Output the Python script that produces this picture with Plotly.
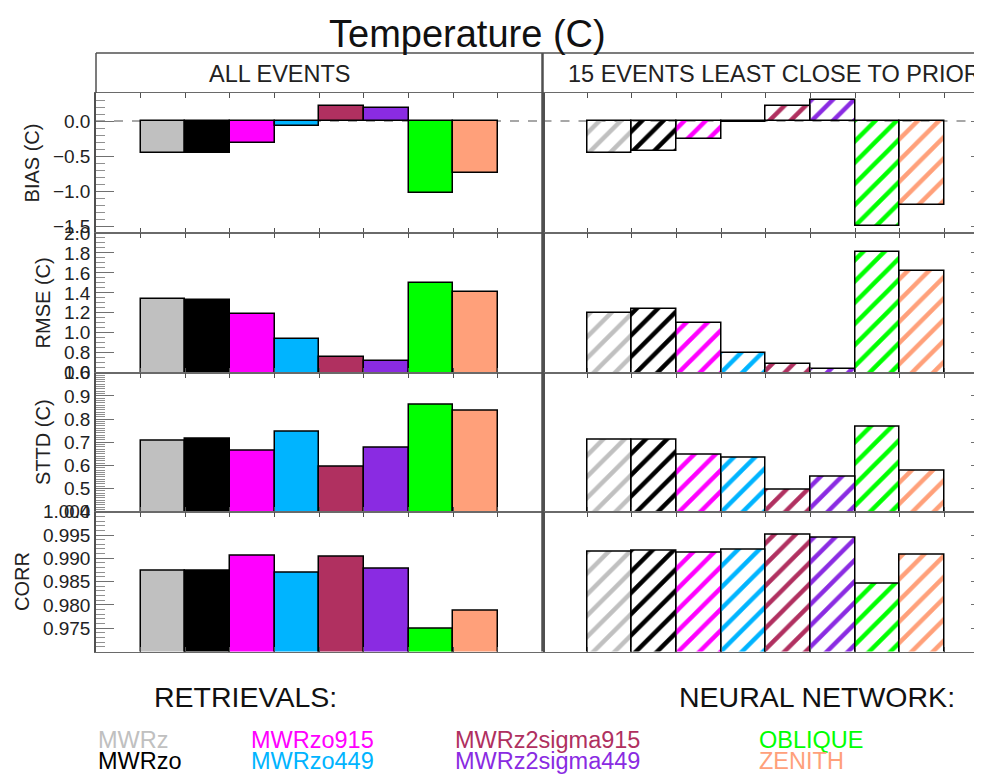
import plotly.graph_objects as go

# ---------------- data ----------------
categories = ["MWRz", "MWRzo", "MWRzo915", "MWRzo449",
              "MWRz2sigma915", "MWRz2sigma449", "OBLIQUE", "ZENITH"]
bar_colors = ["#c0c0c0", "#000000", "#ff00ff", "#00b4ff",
              "#b03060", "#8a2be2", "#00ff00", "#ffa07a"]

panel_titles = ["ALL EVENTS", "15 EVENTS LEAST CLOSE TO PRIOR"]
metric_labels = ["BIAS (C)", "RMSE (C)", "STTD (C)", "CORR"]

bias_all = [-0.46, -0.45, -0.32, -0.07, 0.21, 0.19, -1.03, -0.74]
rmse_all = [1.34, 1.33, 1.19, 0.94, 0.76, 0.72, 1.50, 1.41]
sttd_all = [0.708, 0.715, 0.662, 0.746, 0.593, 0.676, 0.861, 0.834]
corr_all = [0.9874, 0.9874, 0.9906, 0.9869, 0.9904, 0.9878, 0.9748, 0.9787]

bias_15 = [-0.45, -0.43, -0.26, -0.01, 0.22, 0.30, -1.50, -1.20]
rmse_15 = [1.20, 1.24, 1.10, 0.80, 0.69, 0.64, 1.81, 1.62]
sttd_15 = [0.711, 0.712, 0.646, 0.632, 0.497, 0.552, 0.769, 0.576]
corr_15 = [0.9915, 0.9917, 0.9912, 0.9919, 0.9950, 0.9945, 0.9846, 0.9908]

bias_ticks = [-1.5, -1.0, -0.5, 0.0]
rmse_ticks = [0.6, 0.8, 1.0, 1.2, 1.4, 1.6, 1.8, 2.0]
sttd_ticks = [0.4, 0.5, 0.6, 0.7, 0.8, 0.9, 1.0]
corr_ticks = [0.975, 0.980, 0.985, 0.990, 0.995, 1.000]

legend_groups = ["RETRIEVALS:", "NEURAL NETWORK:"]

# ---------------- layout helpers ----------------
OFF = 8                      # page body margin
W, H = 982 - OFF, 774 - OFF  # figure size that fills the rest of the window
FONT = "Liberation Sans, Arial, sans-serif"
AXC = "#505050"


def fx(p):
    return (p - OFF) / W


def fy(p):
    return 1 - (p - OFF) / H


metrics = [
    dict(vals=(bias_all, bias_15), rng=[-1.6, 0.4], ticks=bias_ticks, fmt=".1f", minor=0.1,
         dom=[fy(233), fy(93)]),
    dict(vals=(rmse_all, rmse_15), rng=[0.6, 2.0], ticks=rmse_ticks, fmt=".1f", minor=0.05,
         dom=[fy(372.7), fy(233)]),
    dict(vals=(sttd_all, sttd_15), rng=[0.4, 1.0], ticks=sttd_ticks, fmt=".1f", minor=0.01,
         dom=[fy(511.7), fy(372.7)]),
    dict(vals=(corr_all, corr_15), rng=[0.97, 1.0], ticks=corr_ticks, fmt=".3f", minor=0.001,
         dom=[fy(651.5), fy(511.7)]),
]

bar_w = (542.5 - 96) / 10.0
xdoms = [[fx(96), fx(542.5)], [fx(542.5), 1.0]]
xranges = [[-1.5, 8.5], [-1.5, -1.5 + (982 - 542.5) / bar_w]]

fig = go.Figure()
layout = dict(
    width=W, height=H,
    margin=dict(l=0, r=0, t=0, b=0),
    paper_bgcolor="white", plot_bgcolor="white",
    showlegend=False,
    font=dict(family=FONT, color="#222222"),
    bargap=0,
)
shapes = []
annotations = []

for m, met in enumerate(metrics):
    for p in range(2):
        k = 2 * m + p + 1
        xa = "x" if k == 1 else f"x{k}"
        ya = "y" if k == 1 else f"y{k}"
        marker = dict(color=bar_colors, line=dict(color="black", width=1.5))
        if p == 1:
            marker["pattern"] = dict(shape="/", fgcolor=bar_colors, bgcolor="white",
                                     size=15, solidity=0.3, fillmode="replace")
        fig.add_trace(go.Bar(x=categories, y=met["vals"][p], width=1.0,
                             marker=marker, xaxis=xa, yaxis=ya, hoverinfo="x+y"))

        layout["xaxis" if k == 1 else f"xaxis{k}"] = dict(
            domain=xdoms[p], range=xranges[p], anchor=ya,
            type="category", categoryorder="array", categoryarray=categories,
            tickson="boundaries", ticks="inside", ticklen=5, tickwidth=1, tickcolor=AXC,
            showticklabels=False, showgrid=False, zeroline=False,
            showline=True, linecolor="#6a6a6a", linewidth=1, mirror="ticks",
            automargin=False,
        )
        yd = dict(
            domain=met["dom"], range=met["rng"], anchor=xa,
            showgrid=False, zeroline=False, automargin=False,
        )
        if p == 0:
            yd.update(
                showline=True, linecolor=AXC, linewidth=1.5, mirror=True,
                tickmode="array", tickvals=met["ticks"], tickformat=met["fmt"],
                ticks="inside", ticklen=18, tickwidth=1.2, tickcolor="#707070",
                tickfont=dict(size=19, color="#222222", family=FONT),
                minor=dict(tickmode="linear", tick0=0, dtick=met["minor"], ticks="inside",
                           ticklen=9, tickwidth=1, tickcolor="#909090"),
                title=dict(text=metric_labels[m], font=dict(size=20, family=FONT, color="#222222"),
                           standoff=8),
            )
        else:
            yd.update(
                side="right", showline=False, showticklabels=False,
                tickmode="array", tickvals=met["ticks"],
                ticks="inside", ticklen=11, tickwidth=1.2, tickcolor="#707070",
                minor=dict(tickmode="linear", tick0=0, dtick=met["minor"], ticks="inside",
                           ticklen=5, tickwidth=1, tickcolor="#a0a0a0"),
            )
        layout["yaxis" if k == 1 else f"yaxis{k}"] = yd

        if m == 0:
            shapes.append(dict(type="line", xref=f"{xa} domain", yref=ya,
                               x0=0, x1=1, y0=0, y1=0, layer="below",
                               line=dict(color="#8a8a8a", width=1.5, dash="dash")))

# header box and panel divider
shapes.append(dict(type="line", xref="paper", yref="paper", x0=fx(96), x1=1.0,
                   y0=fy(53), y1=fy(53), line=dict(color=AXC, width=1.5)))
shapes.append(dict(type="line", xref="paper", yref="paper", x0=fx(96), x1=fx(96),
                   y0=fy(93), y1=fy(53), line=dict(color=AXC, width=1.5)))
shapes.append(dict(type="line", xref="paper", yref="paper", x0=fx(542.5), x1=fx(542.5),
                   y0=fy(651.5), y1=fy(53), line=dict(color=AXC, width=2.5)))

annotations.append(dict(text=panel_titles[0], xref="paper", yref="paper", x=fx(207), y=fy(74),
                        xanchor="left", yanchor="middle", showarrow=False,
                        font=dict(size=23.5, family=FONT, color="#222222")))
annotations.append(dict(text=panel_titles[1], xref="paper", yref="paper", x=fx(566), y=fy(74),
                        xanchor="left", yanchor="middle", showarrow=False,
                        font=dict(size=23.5, family=FONT, color="#222222")))

# title
annotations.append(dict(text="Temperature (C)", xref="paper", yref="paper", x=fx(467), y=fy(34),
                        xanchor="center", yanchor="middle", showarrow=False,
                        font=dict(size=38, family=FONT, color="#111111")))

# legend headings
annotations.append(dict(text=legend_groups[0], xref="paper", yref="paper", x=fx(152), y=fy(697),
                        xanchor="left", yanchor="middle", showarrow=False,
                        font=dict(size=28.5, family=FONT, color="#111111")))
annotations.append(dict(text=legend_groups[1], xref="paper", yref="paper", x=fx(677), y=fy(697),
                        xanchor="left", yanchor="middle", showarrow=False,
                        font=dict(size=28.5, family=FONT, color="#111111")))

# legend entries (two per column)
col_x = [96, 249, 453, 757]
row_y = [740, 761]
for i, (name, col) in enumerate(zip(categories, bar_colors)):
    c, r = divmod(i, 2)
    annotations.append(dict(text=name, xref="paper", yref="paper", x=fx(col_x[c]), y=fy(row_y[r]),
                            xanchor="left", yanchor="middle", showarrow=False,
                            font=dict(size=23.5, family=FONT, color=col)))

layout["shapes"] = shapes
layout["annotations"] = annotations
fig.update_layout(**layout)
fig.write_html("out.html")
